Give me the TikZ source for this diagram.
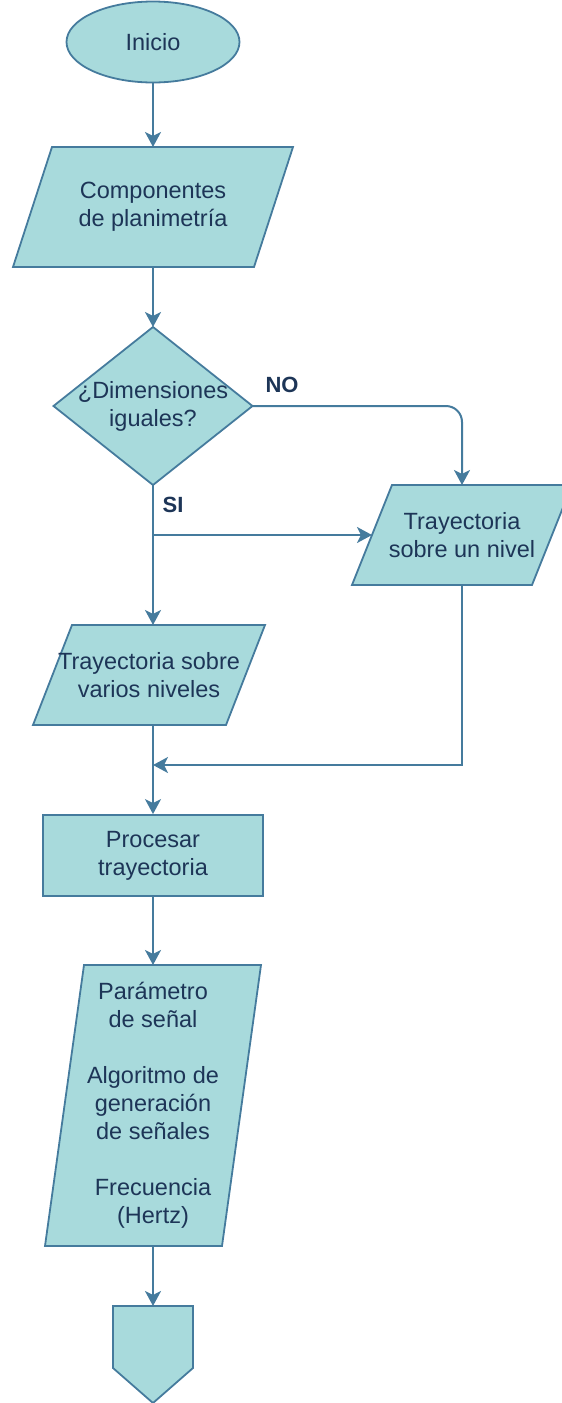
\documentclass[tikz,border=0pt]{standalone}
\usepackage{fontspec}
\setmainfont{Liberation Sans}
\usetikzlibrary{shapes.geometric,arrows.meta,backgrounds}
\definecolor{fillc}{HTML}{A8DADC}
\definecolor{linec}{HTML}{457B9D}
\definecolor{inkc}{HTML}{1D3557}
\begin{document}
\begin{tikzpicture}[x=1pt,y=-1pt,
  lbl/.style={text=inkc, font=\fontsize{23.5}{28}\selectfont, align=center},
  frame/.style={rectangle, inner sep=0pt, outer sep=0pt},
  shapefill/.style={fill=fillc, draw=linec, line width=1.8pt, line join=miter},
  flow/.style={draw=linec, line width=2pt, -{Stealth[length=15pt,width=16pt,inset=4pt]}},
  tag/.style={text=inkc, font=\fontsize{22}{26}\selectfont\bfseries}]
\useasboundingbox (0,0) rectangle (562,1403);

% terminal and process steps
\node[ellipse, shapefill, lbl, minimum width=173pt, minimum height=81pt, inner sep=0pt] (start) at (153,42) {Inicio};
\node[frame, lbl, minimum width=280pt, minimum height=120pt] (p1) at (153,207) {Componentes\\de planimetría};
\node[frame, lbl, minimum width=199pt, minimum height=158pt] (dec) at (153,406) {¿Dimensiones\\iguales?};
\node[frame, lbl, minimum width=220pt, minimum height=100pt] (p2) at (462,535) {Trayectoria\\sobre un nivel};
\node[frame, lbl, minimum width=232pt, minimum height=100pt] (p3) at (149,675) {Trayectoria sobre\\varios niveles};
\node[rectangle, shapefill, lbl, minimum width=220pt, minimum height=81pt, inner sep=0pt] (proc) at (153,855.5) {Procesar\\trayectoria};
\node[frame, lbl, minimum width=216pt, minimum height=281pt] (p4) at (153,1105.5)
  {Parámetro\\de señal\\[28pt]Algoritmo de\\generación\\de señales\\[28pt]Frecuencia\\(Hertz)};
\node[frame, minimum width=80pt, minimum height=97pt] (off) at (153,1354.5) {};

% shape outlines behind the texts
\begin{scope}[on background layer]
  \path[shapefill] ([xshift=39pt]p1.north west) -- (p1.north east) -- ([xshift=-39pt]p1.south east) -- (p1.south west) -- cycle;
  \path[shapefill] (dec.north) -- (dec.east) -- (dec.south) -- (dec.west) -- cycle;
  \path[shapefill] ([xshift=40pt]p2.north west) -- (p2.north east) -- ([xshift=-40pt]p2.south east) -- (p2.south west) -- cycle;
  \path[shapefill] ([xshift=39pt]p3.north west) -- (p3.north east) -- ([xshift=-39pt]p3.south east) -- (p3.south west) -- cycle;
  \path[shapefill] ([xshift=39pt]p4.north west) -- (p4.north east) -- ([xshift=-39pt]p4.south east) -- (p4.south west) -- cycle;
  \path[shapefill] (off.north west) -- (off.north east) -- ([yshift=35pt]off.south east) -- (off.south) -- ([yshift=35pt]off.south west) -- cycle;
\end{scope}

% branch labels
\node[tag] (no) at (282,385) {NO};
\node[tag] (si) at (173,505) {SI};

% connectors
\coordinate (split) at (dec.south |- p2.west);
\coordinate (merge) at (153,765);
\draw[flow] (start) -- (p1.north);
\draw[flow] (p1.south) -- (dec.north);
\draw[flow, rounded corners=16pt] (dec.east) -- (p2.north |- dec.east) -- (p2.north);
\draw[flow] (dec.south) -- (dec.south |- p3.north);
\draw[flow] (split) -- ([xshift=20pt]p2.west);
\draw[flow] (p2.south) |- (merge);
\draw[flow] (proc.north |- p3.south) -- (proc.north);
\draw[flow] (proc) -- (p4.north);
\draw[flow] (p4.south) -- (off.north);
\end{tikzpicture}
\end{document}
